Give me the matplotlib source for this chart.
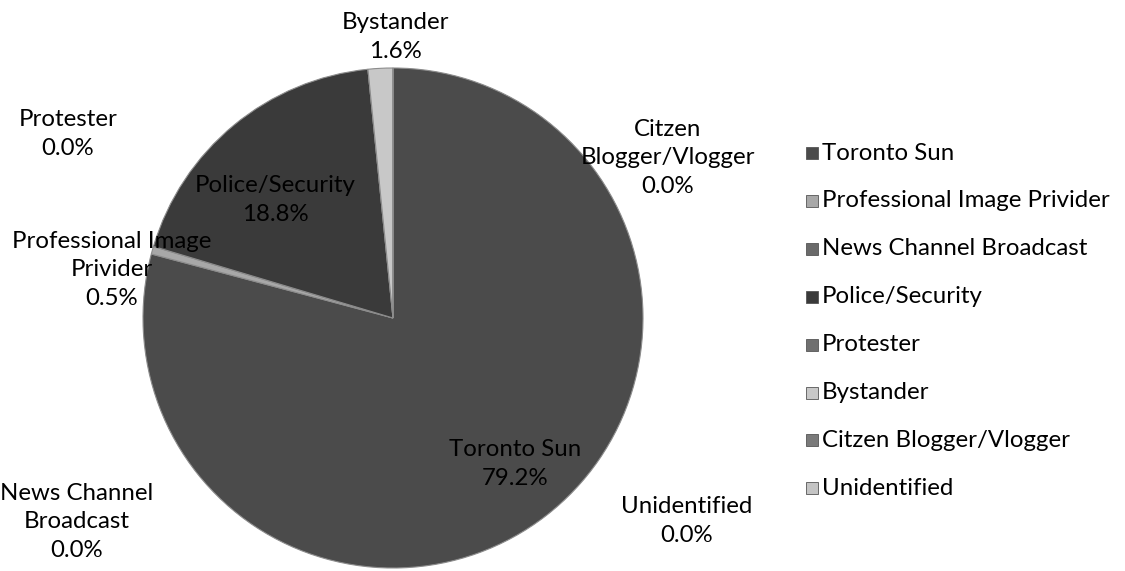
import matplotlib
matplotlib.use("Agg")
import matplotlib.pyplot as plt
from matplotlib.patches import Rectangle

categories = ["Toronto Sun", "Professional Image Privider", "News Channel Broadcast",
              "Police/Security", "Protester", "Bystander", "Citizen Blogger/Vlogger", "Unidentified"]
values = [79.2, 0.5, 0.0, 18.8, 0.0, 1.6, 0.0, 0.0]
label_names = ["Toronto Sun", "Professional Image\nPrivider", "News Channel\nBroadcast",
               "Police/Security", "Protester", "Bystander", "Citzen\nBlogger/Vlogger", "Unidentified"]
legend_names = ["Toronto Sun", "Professional Image Privider", "News Channel Broadcast",
                "Police/Security", "Protester", "Bystander", "Citzen Blogger/Vlogger", "Unidentified"]
colors = ["#4b4b4b", "#a8a8a8", "#6a6a6a", "#3a3a3a", "#707070", "#c8c8c8", "#7a7a7a", "#c4c4c4"]

# label centers in pixel coords (x, y from top)
label_pos = [(515, 464), (112, 270), (77, 522), (275, 200), (68, 134), (395, 37), (668, 158), (687, 521)]

W, H = 1125, 571
fig = plt.figure(figsize=(W / 100, H / 100), dpi=100)
fig.patch.set_facecolor("white")
plt.rcParams['font.family'] = ['Lato', 'DejaVu Sans']
FS = 17.3

cx, cy, r = 393, 318, 250
ax = fig.add_axes([(cx - r) / W, (H - cy - r) / H, 2 * r / W, 2 * r / H])
wedges, _ = ax.pie(values, colors=colors, startangle=90, counterclock=False, radius=1,
                   wedgeprops=dict(edgecolor="#8c8c8c", linewidth=0.8))
ax.set_xlim(-1, 1)
ax.set_ylim(-1, 1)
ax.set_aspect("auto")
ax.axis("off")

for name, v, (px, py) in zip(label_names, values, label_pos):
    fig.text(px / W, 1 - py / H, f"{name}\n{v:.1f}%", ha="center", va="center",
             fontsize=FS, color="#000000", linespacing=1.42)

# legend
y0, dy = 153, 47.9
for i, (name, col) in enumerate(zip(legend_names, colors)):
    y = y0 + i * dy
    fig.patches.append(Rectangle(((806) / W, 1 - (y + 6) / H), 12 / W, 12 / H,
                                 transform=fig.transFigure, facecolor=col,
                                 edgecolor="#555555", linewidth=0.6))
    fig.text(822 / W, 1 - y / H, name, ha="left", va="center", fontsize=FS, color="#000000")

fig.savefig("out.png", dpi=100, facecolor="white")
